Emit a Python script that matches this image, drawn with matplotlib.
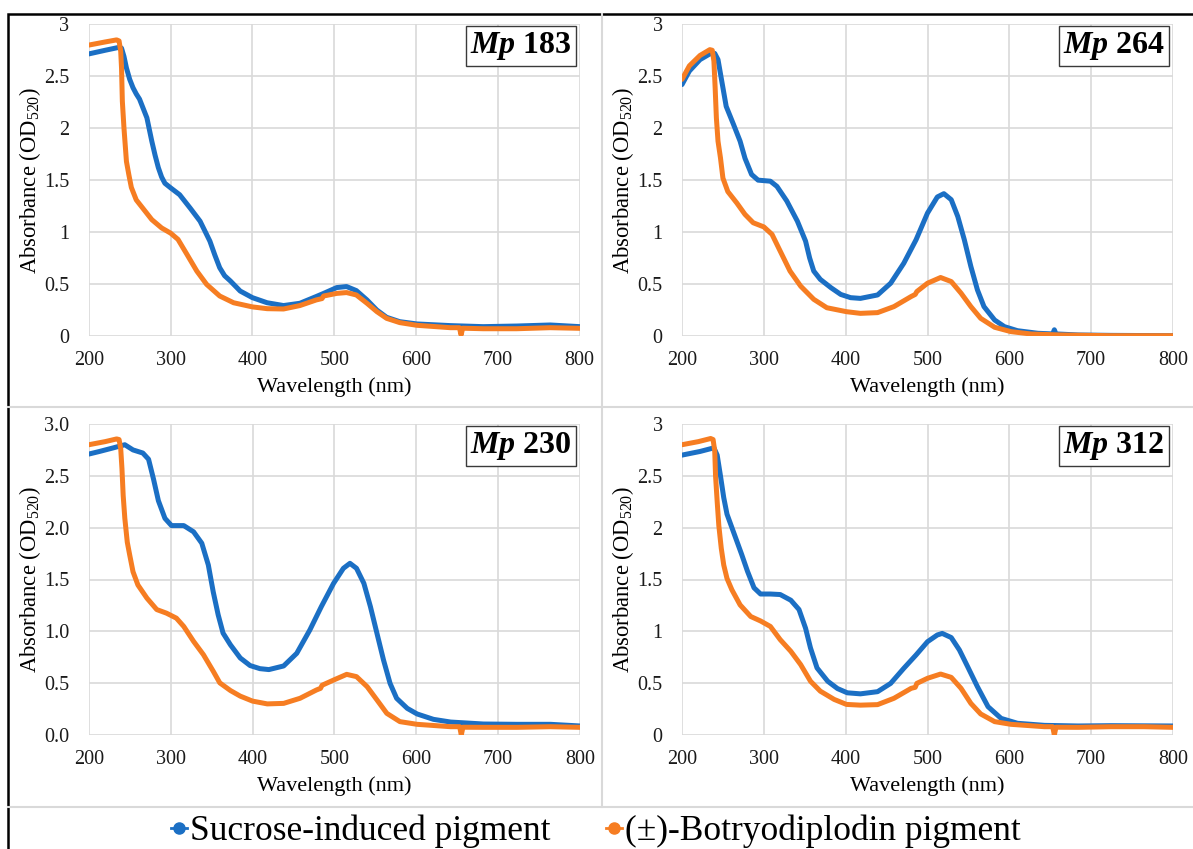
import matplotlib
matplotlib.use('Agg')
import matplotlib.pyplot as plt
from matplotlib.lines import Line2D
from matplotlib.patches import Rectangle

plt.rcParams['font.family'] = ['Liberation Serif', 'DejaVu Serif']
plt.rcParams['mathtext.fontset'] = 'custom'
plt.rcParams['mathtext.rm'] = 'Liberation Serif'
plt.rcParams['mathtext.it'] = 'Liberation Serif:italic'
plt.rcParams['mathtext.bf'] = 'Liberation Serif:bold'
plt.rcParams['mathtext.bfit'] = 'Liberation Serif:bold:italic'

# ---------------- data ----------------
strains = ['183', '264', '230', '312']
series_names = ['Sucrose-induced pigment', '(\u00b1)-Botryodiplodin pigment']

x_ticks = [200, 300, 400, 500, 600, 700, 800]
y_ticks = [0, 0.5, 1, 1.5, 2, 2.5, 3]
y_labels_plain = ['0', '0.5', '1', '1.5', '2', '2.5', '3']
y_labels_dec = ['0.0', '0.5', '1.0', '1.5', '2.0', '2.5', '3.0']

# Mp 183
wl_183_suc = [200, 220, 238, 240, 243, 246, 250, 254, 258, 262, 266, 271, 277, 281, 285, 289, 293, 300, 311,
              324, 336, 348, 354, 360, 366, 373, 385, 400, 418, 438, 458, 478, 487, 503, 515, 527, 540, 552,
              564, 580, 601, 642, 682, 723, 764, 800]
abs_183_suc = [2.715, 2.75, 2.78, 2.77, 2.69, 2.58, 2.47, 2.39, 2.33, 2.28, 2.20, 2.10, 1.875, 1.74, 1.62,
               1.53, 1.47, 1.426, 1.36, 1.23, 1.105, 0.913, 0.78, 0.657, 0.58, 0.53, 0.433, 0.369, 0.32, 0.293,
               0.315, 0.38, 0.41, 0.466, 0.476, 0.437, 0.347, 0.25, 0.18, 0.138, 0.116, 0.10, 0.09, 0.096,
               0.106, 0.09]
wl_183_bot = [200, 220, 234, 237, 239, 240, 241, 243, 246, 249, 252, 258, 266, 277, 289, 300, 309, 320, 332,
              344, 360, 377, 400, 418, 438, 458, 478, 485, 487, 503, 515, 527, 540, 552, 564, 580, 601, 642,
              653, 655, 657, 682, 723, 764, 800]
abs_183_bot = [2.80, 2.83, 2.85, 2.84, 2.74, 2.58, 2.26, 2.0, 1.68, 1.55, 1.43, 1.31, 1.23, 1.12, 1.04, 0.99,
               0.93, 0.785, 0.625, 0.497, 0.385, 0.32, 0.28, 0.263, 0.26, 0.293, 0.347, 0.36, 0.385, 0.41,
               0.418, 0.395, 0.315, 0.235, 0.17, 0.129, 0.103, 0.08, 0.08, 0.01, 0.075, 0.07, 0.07, 0.08, 0.074]

# Mp 264
wl_264_suc = [200, 209, 222, 234, 240, 244, 248, 254, 263, 271, 277, 285, 293, 308, 316, 328, 341, 351, 356,
              361, 369, 382, 394, 406, 418, 439, 455, 471, 486, 500, 512, 520, 529, 537, 545, 553, 561, 569,
              582, 594, 610, 635, 653, 655, 657, 684, 724, 800]
abs_264_suc = [2.42, 2.55, 2.66, 2.715, 2.72, 2.66, 2.48, 2.21, 2.035, 1.875, 1.71, 1.555, 1.5, 1.49, 1.44,
               1.30, 1.105, 0.913, 0.75, 0.625, 0.545, 0.465, 0.40, 0.369, 0.362, 0.395, 0.508, 0.70, 0.926,
               1.183, 1.338, 1.37, 1.312, 1.15, 0.926, 0.669, 0.444, 0.283, 0.154, 0.09, 0.051, 0.026, 0.02,
               0.06, 0.02, 0.01, 0.006, 0.003]
wl_264_bot = [200, 209, 222, 234, 237, 239, 240.5, 242, 244, 247, 250, 256, 267, 277, 287, 300, 310, 320, 332,
              345, 361, 377, 401, 418, 439, 459, 480, 485, 487, 500, 516, 529, 541, 553, 565, 582, 602, 627,
              663, 724, 800]
abs_264_bot = [2.47, 2.6, 2.70, 2.756, 2.75, 2.645, 2.39, 2.10, 1.875, 1.715, 1.52, 1.39, 1.28, 1.17, 1.09,
               1.05, 0.978, 0.817, 0.625, 0.48, 0.353, 0.272, 0.234, 0.218, 0.225, 0.283, 0.38, 0.40, 0.428,
               0.508, 0.563, 0.524, 0.412, 0.283, 0.17, 0.084, 0.042, 0.019, 0.01, 0.003, 0.003]

# Mp 230
wl_230_suc = [200, 213, 230, 244, 254, 266, 273, 279, 285, 293, 301, 316, 328, 338, 346, 352, 358, 364, 373,
              385, 397, 409, 420, 438, 454, 470, 484, 499, 511, 519, 527, 536, 544, 552, 560, 568, 576, 589,
              601, 621, 642, 682, 723, 764, 800]
abs_230_suc = [2.71, 2.735, 2.77, 2.80, 2.75, 2.72, 2.66, 2.47, 2.26, 2.09, 2.02, 2.02, 1.96, 1.85, 1.64, 1.38,
               1.16, 0.983, 0.87, 0.743, 0.67, 0.64, 0.631, 0.666, 0.788, 1.013, 1.238, 1.463, 1.608, 1.656,
               1.608, 1.463, 1.238, 0.98, 0.723, 0.498, 0.354, 0.257, 0.203, 0.151, 0.125, 0.106, 0.103,
               0.103, 0.087]
wl_230_bot = [200, 220, 234, 237, 239, 240.5, 242, 244, 247, 250, 254, 260, 271, 283, 295, 307, 316, 328, 340,
              352, 360, 373, 385, 400, 418, 438, 458, 478, 483, 485, 499, 515, 527, 540, 552, 564, 580, 601,
              642, 653, 655, 657, 682, 723, 764, 800]
abs_230_bot = [2.80, 2.83, 2.856, 2.85, 2.76, 2.57, 2.31, 2.09, 1.86, 1.735, 1.575, 1.447, 1.32, 1.21, 1.175,
               1.127, 1.047, 0.903, 0.775, 0.615, 0.503, 0.429, 0.375, 0.327, 0.30, 0.305, 0.354, 0.434, 0.45,
               0.48, 0.53, 0.585, 0.563, 0.466, 0.338, 0.209, 0.129, 0.103, 0.08, 0.08, 0.0, 0.075, 0.074,
               0.074, 0.08, 0.074]

# Mp 312
wl_312_suc = [200, 222, 239, 243, 247, 251, 255, 261, 267, 273, 280, 288, 296, 308, 320, 333, 343, 351, 357,
              365, 378, 390, 402, 418, 439, 455, 471, 486, 500, 512, 518, 529, 539, 549, 561, 574, 590, 610,
              643, 684, 724, 800]
abs_312_suc = [2.70, 2.735, 2.77, 2.70, 2.50, 2.29, 2.13, 2.0, 1.87, 1.74, 1.58, 1.42, 1.36, 1.36, 1.355,
               1.30, 1.21, 1.03, 0.84, 0.647, 0.519, 0.448, 0.407, 0.397, 0.418, 0.498, 0.643, 0.772, 0.90,
               0.965, 0.98, 0.94, 0.82, 0.66, 0.466, 0.273, 0.16, 0.113, 0.093, 0.087, 0.09, 0.087]
wl_312_bot = [200, 220, 235, 238, 240, 241, 243, 245, 248, 251, 255, 261, 271, 284, 296, 308, 320, 333, 345,
              357, 369, 386, 401, 418, 439, 459, 480, 485, 487, 500, 516, 529, 541, 553, 565, 582, 602, 643,
              653, 655, 657, 684, 724, 765, 800]
abs_312_bot = [2.80, 2.83, 2.86, 2.85, 2.74, 2.50, 2.25, 2.02, 1.80, 1.64, 1.51, 1.40, 1.255, 1.143, 1.10,
               1.047, 0.92, 0.807, 0.679, 0.519, 0.423, 0.343, 0.295, 0.288, 0.293, 0.354, 0.45, 0.46, 0.498,
               0.547, 0.588, 0.556, 0.45, 0.305, 0.203, 0.129, 0.103, 0.08, 0.08, 0.0, 0.075, 0.074, 0.08,
               0.08, 0.074]

panel_data = {
    '183': ((wl_183_suc, abs_183_suc), (wl_183_bot, abs_183_bot)),
    '264': ((wl_264_suc, abs_264_suc), (wl_264_bot, abs_264_bot)),
    '230': ((wl_230_suc, abs_230_suc), (wl_230_bot, abs_230_bot)),
    '312': ((wl_312_suc, abs_312_suc), (wl_312_bot, abs_312_bot)),
}

# ---------------- layout / style ----------------
W, H = 1193, 849
fig = plt.figure(figsize=(W / 100, H / 100), dpi=100)

def fx(px):
    return px / W

def fy(py):
    return 1 - py / H

BLUE = '#1b6fc4'
ORANGE = '#f67d22'
GRID = '#d9d9d9'

# axes boxes in pixel coords: left, top, right, bottom
boxes = {
    '183': (88.8, 24.3, 579.7, 336.0),
    '264': (682.0, 24.3, 1173.0, 336.0),
    '230': (88.8, 424.0, 580.0, 735.0),
    '312': (682.0, 424.0, 1173.0, 735.0),
}

for strain in strains:
    l, t, r, b = boxes[strain]
    ax = fig.add_axes([fx(l), fy(b), (r - l) / W, (b - t) / H])
    (ws, a_s), (wb, a_b) = panel_data[strain]
    ax.plot(ws, a_s, color=BLUE, lw=3.6, solid_joinstyle='round', solid_capstyle='round', zorder=3)
    ax.plot(wb, a_b, color=ORANGE, lw=3.6, solid_joinstyle='round', solid_capstyle='round', zorder=4)
    ax.set_xlim(200, 800)
    ax.set_ylim(0, 3)
    ax.set_xticks(x_ticks)
    ax.set_xticklabels([str(v) for v in x_ticks])
    ax.set_yticks(y_ticks)
    ax.set_yticklabels(y_labels_dec if strain == '230' else y_labels_plain)
    ax.grid(True, color=GRID, lw=1.2, zorder=0)
    ax.set_axisbelow(True)
    for s in ax.spines.values():
        s.set_visible(False)
    ax.tick_params(axis='x', length=0, labelsize=14.5, colors='#1a1a1a', pad=11)
    ax.tick_params(axis='y', length=0, labelsize=14.5, colors='#1a1a1a', pad=14)
    ax.set_xlabel('Wavelength (nm)', fontsize=16, labelpad=5)
    ax.set_ylabel('Absorbance (OD$_{520}$)', fontsize=16.3, labelpad=1)
    ax.text(0.88, 0.93, r'$\mathbfit{Mp}$ ' + strain, transform=ax.transAxes,
            ha='center', va='center', fontsize=23, fontweight='bold', zorder=6,
            bbox=dict(boxstyle='square,pad=0.12', fc='white', ec='#3a3a3a', lw=1.0))

# separators and outer frame
fig.add_artist(Line2D([fx(8), 1.0], [fy(407), fy(407)], transform=fig.transFigure, color=GRID, lw=1.5))
fig.add_artist(Line2D([fx(8), 1.0], [fy(807), fy(807)], transform=fig.transFigure, color=GRID, lw=1.5))
fig.add_artist(Line2D([fx(602), fx(602)], [fy(14), fy(807)], transform=fig.transFigure, color=GRID, lw=1.5))
fig.add_artist(Rectangle((fx(8), -0.05), 1.1, fy(14) + 0.05, transform=fig.transFigure,
                         fill=False, ec='black', lw=1.8))

handles = [Line2D([0], [0], color=BLUE, lw=2, marker='o', ms=8),
           Line2D([0], [0], color=ORANGE, lw=2, marker='o', ms=8)]
fig.legend(handles, series_names, loc='lower center', bbox_to_anchor=(fx(596), fy(848)), ncol=2,
           frameon=False, fontsize=25.5, handlelength=0.45, handletextpad=0.1, columnspacing=1.55,
           borderaxespad=0, borderpad=0)

fig.savefig('out.png', dpi=100)
